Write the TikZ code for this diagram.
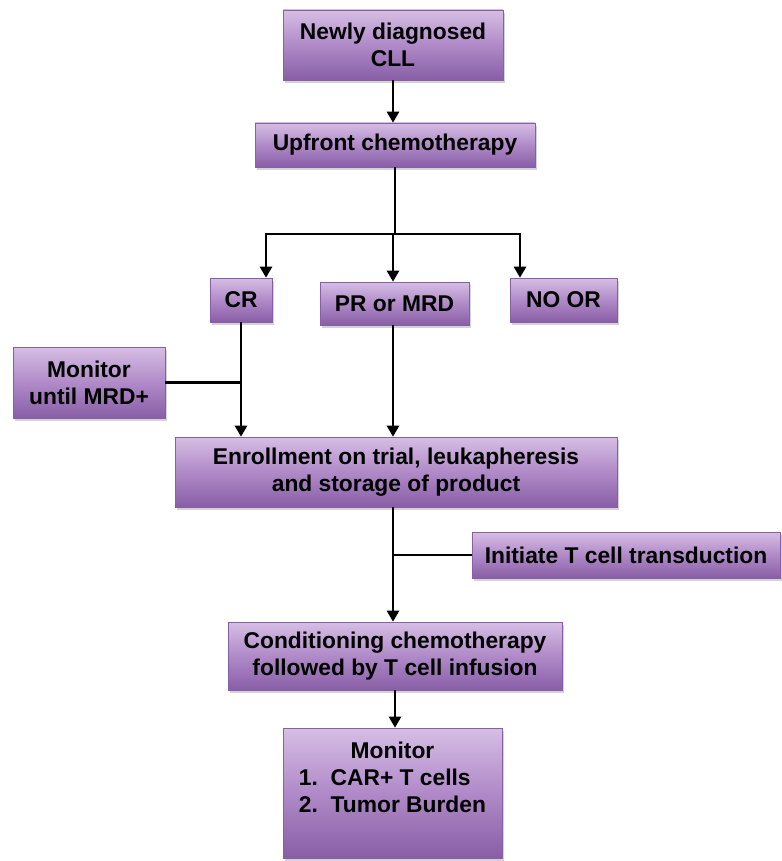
\documentclass[tikz,border=0pt]{standalone}
\usepackage{fontspec}
\setmainfont{Liberation Sans}
\usepackage{tikz}
\usetikzlibrary{positioning}
\usetikzlibrary{arrows.meta,shadows}
\definecolor{boxhi}{RGB}{214,190,228}
\definecolor{boxmid}{RGB}{176,138,200}
\definecolor{boxlo}{RGB}{136,94,166}
\tikzstyle{box_p} = [rectangle, draw=boxlo, line width=0.6pt, top color=boxhi, bottom color=boxlo, middle color=boxmid, drop shadow={shadow xshift=2pt, shadow yshift=-3pt, opacity=0.35}, font=\bfseries\fontsize{22.8}{27}\selectfont, align=center, inner sep=0pt]
\tikzstyle{link_l} = [line width=2.6pt, black]

\begin{document}
\begin{tikzpicture}[x=1pt,y=-1pt,>={Triangle[length=11pt,width=12pt]}]
\useasboundingbox (0,0) rectangle (781,861);
% boxes
\node [box_p, minimum width=220pt, minimum height=70pt] (newcll) at (393,45) {Newly diagnosed\\CLL};
\node [box_p, minimum width=280pt, minimum height=44pt] (upfront) at (395,145) {Upfront chemotherapy};
\node [box_p, minimum width=62pt, minimum height=44pt] (cr) at (241,300) {CR};
\node [box_p, minimum width=149pt, minimum height=43pt] (pr) at (394.5,303.5) {PR or MRD};
\node [box_p, minimum width=107pt, minimum height=44pt] (noor) at (563.5,300) {NO OR};
\node [box_p, minimum width=152pt, minimum height=71pt] (montil) at (89,382.5) {Monitor\\until MRD+};
\node [box_p, minimum width=442pt, minimum height=70pt] (enrol) at (396,472) {Enrollment on trial, leukapheresis\\and storage of product};
\node [box_p, minimum width=308pt, minimum height=46pt] (initiate) at (626,555) {Initiate T cell transduction};
\node [box_p, minimum width=334pt, minimum height=68pt] (cond) at (395,656) {Conditioning chemotherapy\\followed by T cell infusion};
\node [box_p, minimum width=219pt, minimum height=130pt] (monitor) at (392.5,793) {\begin{tabular}{@{}l@{}}\multicolumn{1}{@{}c@{}}{Monitor}\\1.\ \ CAR+ T cells\\2.\ \ Tumor Burden\\[26pt]\end{tabular}};
% branch points
\coordinate (split) at (393,234);
\coordinate (splitL) at (266,234);
\coordinate (splitR) at (520,234);
% connectors
\draw [link_l,->] (newcll.south) -- (newcll.south |- upfront.north);
\draw [link_l] (upfront.south |- split) -- (upfront.south);
\draw [link_l,->] (split) -- (splitL) -- (splitL |- cr.north);
\draw [link_l,->] (split) -- (splitR) -- (splitR |- noor.north);
\draw [link_l,->] (split) -- (split |- pr.north);
\draw [link_l,->] (cr.south) -- (cr.south |- enrol.north);
\draw [link_l] (montil.east) -- (montil.east -| cr.south);
\draw [link_l,->] (split |- pr.south) -- (split |- enrol.north);
\draw [link_l,->] (split |- enrol.south) -- (split |- cond.north);
\draw [link_l] (initiate.west) -- (initiate.west -| split);
\draw [link_l,->] (cond.south) -- (cond.south |- monitor.north);
\end{tikzpicture}
\end{document}
